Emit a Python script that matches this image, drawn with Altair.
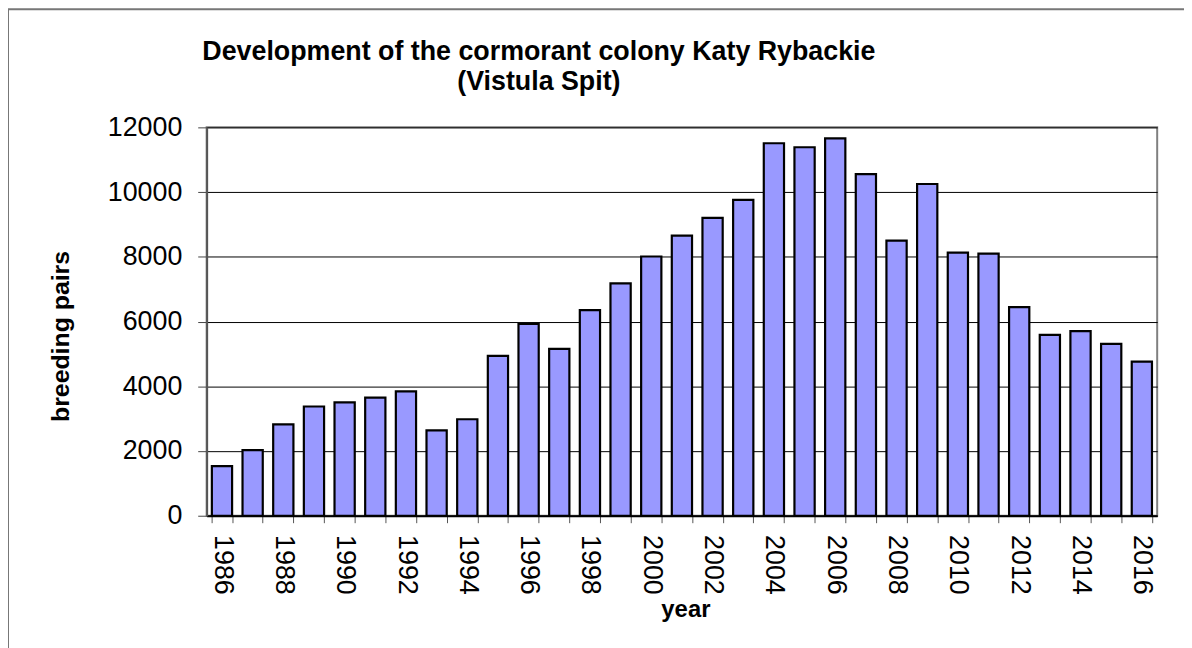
import altair as alt
import pandas as pd

years = list(range(1986, 2017))
pairs = [1535, 2025, 2825, 3375, 3500, 3650, 3840, 2640, 2980, 4940,
         5925, 5155, 6350, 7180, 8010, 8655, 9205, 9760, 11510, 11385,
         11660, 10555, 8500, 10250, 8130, 8100, 6445, 5590, 5705, 5310, 4760]

df = pd.DataFrame({"year": years, "pairs": pairs})

FONT = "Liberation Sans"
W, H = 957, 391
PL, PT = 200, 118
PR = 1184 - PL - W
PB = 640 - PT - H

bars = alt.Chart(df).mark_bar(
    fill="#9999FF", stroke="black", strokeWidth=2.2
).encode(
    x=alt.X("year:O",
            scale=alt.Scale(paddingInner=0.34, paddingOuter=0.17),
            axis=alt.Axis(
                title="year", labelAngle=90, labelFont=FONT, labelFontSize=27,
                labelColor="black", labelPadding=12,
                labelExpr="datum.value % 2 == 0 ? datum.label : ''",
                tickBand="extent", tickColor="#555", tickSize=7, tickWidth=1,
                domainColor="black", domainWidth=2,
                titleFont=FONT, titleFontSize=24, titleFontWeight="bold",
                titleColor="black", titleX=482, titleY=101,
                titleAlign="center", titleBaseline="alphabetic",
                grid=False, labelOverlap=False)),
    y=alt.Y("pairs:Q",
            scale=alt.Scale(domain=[0, 12000], nice=False),
            axis=alt.Axis(
                title="breeding pairs", values=list(range(0, 12001, 2000)),
                format="d",
                labelFont=FONT, labelFontSize=27, labelColor="black",
                labelPadding=16, tickColor="#444", tickSize=9, tickWidth=1,
                domainColor="#555", domainWidth=2,
                grid=True, gridColor="black", gridWidth=1,
                titleFont=FONT, titleFontSize=25, titleFontWeight="bold",
                titleColor="black", titleX=-147, titleY=210, titleAngle=-90,
                titleAlign="center", titleBaseline="middle")),
)

border = alt.Chart(alt.Data(values=[{"a": 1}])).mark_rect(
    fill=None, stroke="#777777", strokeWidth=2
).encode(
    x=alt.value(-200), y=alt.value(-119), x2=alt.value(2000), y2=alt.value(2000)
)

chart = alt.layer(bars, border).properties(
    width=W, height=H,
    autosize=alt.AutoSizeParams(type="none"),
    padding={"left": PL, "top": PT, "right": PR, "bottom": PB},
    title=alt.TitleParams(
        text=["Development of the cormorant colony Katy Rybackie", "(Vistula Spit)"],
        font=FONT, fontSize=27, fontWeight="bold", color="black",
        anchor="middle", dx=-144, dy=118, offset=30, lineHeight=30),
).configure_view(
    stroke="#808080", strokeWidth=2
)

chart.save("out.html", embed_options={"renderer": "svg", "actions": False})
